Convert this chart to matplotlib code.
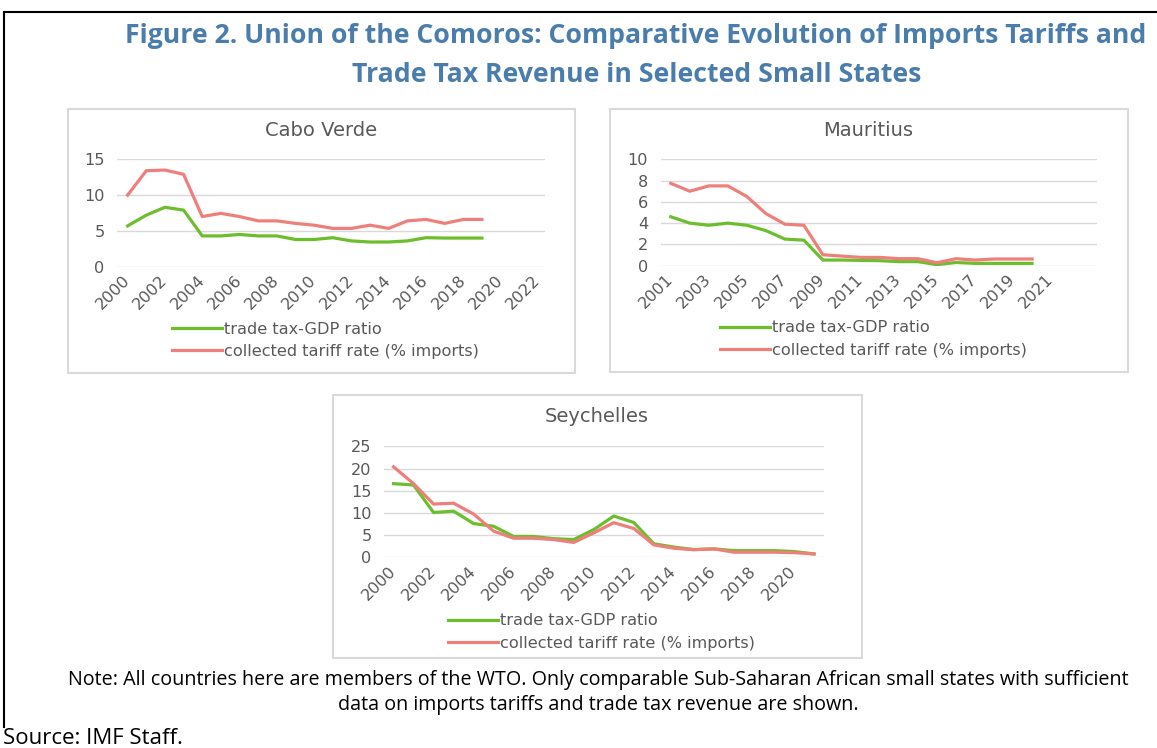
import matplotlib.pyplot as plt
from matplotlib.patches import Rectangle
from matplotlib.lines import Line2D

W, H = 1157, 748

# Cabo Verde
cv_years = list(range(2000, 2020))
cv_trade = [5.7, 7.2, 8.3, 7.9, 4.3, 4.3, 4.5, 4.3, 4.3, 3.8,
            3.8, 4.05, 3.6, 3.45, 3.45, 3.6, 4.05, 4.0, 4.0, 4.0]
cv_tariff = [10.0, 13.4, 13.5, 12.9, 7.0, 7.45, 7.0, 6.4, 6.4, 6.05,
             5.8, 5.35, 5.35, 5.8, 5.35, 6.4, 6.6, 6.05, 6.6, 6.6]

# Mauritius
mu_years = list(range(2001, 2021))
mu_trade = [4.6, 4.0, 3.8, 4.0, 3.8, 3.3, 2.5, 2.4, 0.53, 0.53,
            0.5, 0.47, 0.38, 0.38, 0.1, 0.3, 0.22, 0.22, 0.22, 0.22]
mu_tariff = [7.74, 7.0, 7.5, 7.5, 6.5, 4.9, 3.9, 3.8, 1.03, 0.9,
             0.78, 0.78, 0.66, 0.66, 0.28, 0.66, 0.53, 0.63, 0.63, 0.63]

# Seychelles
sy_years = list(range(2000, 2022))
sy_trade = [16.6, 16.3, 10.1, 10.4, 7.6, 7.0, 4.7, 4.7, 4.2, 4.0, 6.25,
            9.3, 7.85, 3.05, 2.3, 1.75, 1.9, 1.5, 1.5, 1.5, 1.3, 0.76]
sy_tariff = [20.4, 16.6, 12.0, 12.2, 9.75, 5.9, 4.3, 4.3, 4.0, 3.35, 5.5,
             7.8, 6.5, 2.8, 2.05, 1.7, 1.9, 1.15, 1.15, 1.15, 1.05, 0.76]

legend_labels = ["trade tax-GDP ratio", "collected tariff rate (% imports)"]

GREEN = '#6DBE2E'
RED = '#EE7F7B'
GRAY = '#595959'
GRID = '#D9D9D9'
TITLE = '#4A7DAB'

plt.rcParams['font.family'] = 'DejaVu Sans'

fig = plt.figure(figsize=(W / 100, H / 100), dpi=100)


def fx(x):
    return x / W


def fy(y):
    return 1 - y / H


def panel(frame, area, title_xy, name, years, trade, tariff, xlim, ymax, ystep, xticks, leg):
    # frame (l, t, r, b) and plot area (l, t, r, b) in pixels
    l, t, r, b = frame
    fig.patches.append(Rectangle((fx(l), fy(b)), (r - l) / W, (b - t) / H,
                                 transform=fig.transFigure, fill=False,
                                 edgecolor=GRID, lw=1.5))
    fig.text(fx(title_xy[0]), fy(title_xy[1]), name, ha='center', va='center',
             fontsize=14, color=GRAY)
    l, t, r, b = area
    ax = fig.add_axes([fx(l), fy(b), (r - l) / W, (b - t) / H])
    ax.plot(years, trade, color=GREEN, lw=2.3, label=legend_labels[0])
    ax.plot(years, tariff, color=RED, lw=2.3, label=legend_labels[1])
    ax.set_xlim(*xlim)
    ax.set_ylim(0, ymax)
    ax.set_yticks(range(0, ymax + 1, ystep))
    ax.set_xticks(xticks)
    ax.set_xticklabels([str(v) for v in xticks], rotation=45, ha='right',
                       va='center', rotation_mode='anchor')
    ax.tick_params(axis='both', length=0, labelsize=11.6, labelcolor=GRAY)
    ax.tick_params(axis='y', pad=9)
    ax.tick_params(axis='x', pad=8)
    for s in ax.spines.values():
        s.set_visible(False)
    ax.yaxis.grid(True, color=GRID, lw=1)
    ax.set_axisbelow(True)
    ax.patch.set_alpha(0)
    ax.legend(loc='center left', bbox_to_anchor=(fx(leg[0]), fy(leg[1])),
              bbox_transform=fig.transFigure, frameon=False, borderpad=0,
              borderaxespad=0, handlelength=3.1, handletextpad=0.12,
              labelspacing=0.45, fontsize=11.6, labelcolor=GRAY)
    return ax


panel((68, 109, 575, 373), (117, 159.3, 545, 266.7), (321, 130), "Cabo Verde",
      cv_years, cv_trade, cv_tariff, (1999.43, 2022.38), 15, 5,
      list(range(2000, 2023, 2)), (172, 340.5))
panel((610, 109, 1128, 372), (660.7, 159.3, 1096.7, 265.7), (868, 130), "Mauritius",
      mu_years, mu_trade, mu_tariff, (2000.47, 2023.4), 10, 2,
      list(range(2001, 2022, 2)), (720, 339))
panel((333, 395, 862, 658), (384.1, 446.4, 823.6, 557.3), (597, 416), "Seychelles",
      sy_years, sy_trade, sy_tariff, (1999.53, 2021.48), 25, 5,
      list(range(2000, 2021, 2)), (448, 632))

# outer border
fig.add_artist(Line2D([fx(4), 1], [fy(12), fy(12)], color='black', lw=1.5,
                      transform=fig.transFigure))
fig.add_artist(Line2D([fx(4), fx(4)], [fy(12), fy(727)], color='black', lw=1.5,
                      transform=fig.transFigure))

fig.text(fx(636), fy(36), "Figure 2. Union of the Comoros: Comparative Evolution of Imports Tariffs and",
         ha='center', va='center', fontsize=19.2, fontweight='bold', color=TITLE,
         family='Open Sans')
fig.text(fx(637), fy(75), "Trade Tax Revenue in Selected Small States",
         ha='center', va='center', fontsize=19.2, fontweight='bold', color=TITLE,
         family='Open Sans')

fig.text(fx(598), fy(680), "Note: All countries here are members of the WTO. Only comparable "
         "Sub-Saharan African small states with sufficient",
         ha='center', va='center', fontsize=14.2, color='black', family='Open Sans')
fig.text(fx(598), fy(705), "data on imports tariffs and trade tax revenue are shown.",
         ha='center', va='center', fontsize=14.2, color='black', family='Open Sans')
fig.text(fx(3), fy(739), "Source: IMF Staff.", ha='left', va='center',
         fontsize=16, color='black', family='Open Sans')

fig.savefig('out.png', dpi=100)
